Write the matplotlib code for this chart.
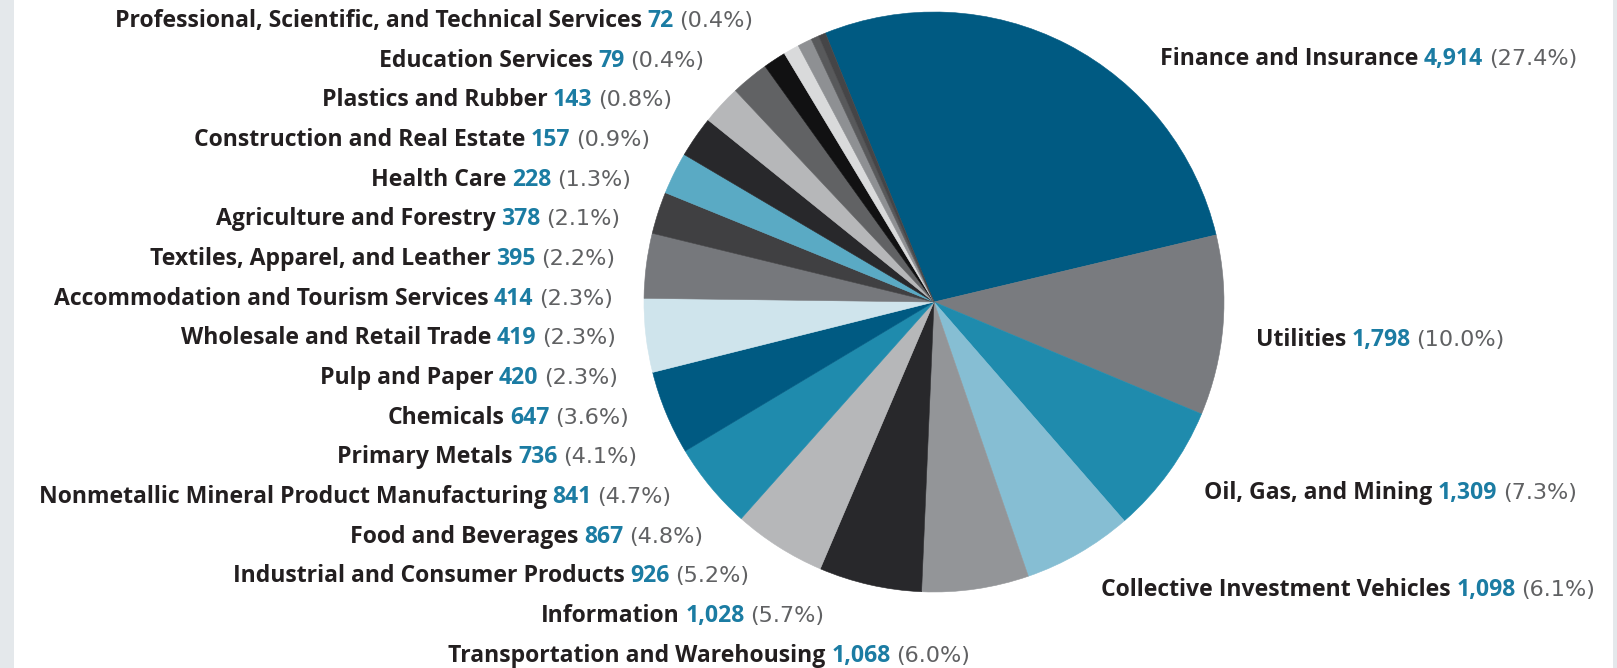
import matplotlib
matplotlib.use("Agg")
import matplotlib.pyplot as plt
from matplotlib.offsetbox import TextArea, HPacker, AnnotationBbox
from matplotlib.patches import Rectangle

# ---------------- data ----------------
categories = [
    "Finance and Insurance", "Utilities", "Oil, Gas, and Mining",
    "Collective Investment Vehicles", "Transportation and Warehousing",
    "Information", "Industrial and Consumer Products", "Food and Beverages",
    "Nonmetallic Mineral Product Manufacturing", "Primary Metals", "Chemicals",
    "Pulp and Paper", "Wholesale and Retail Trade",
    "Accommodation and Tourism Services", "Textiles, Apparel, and Leather",
    "Agriculture and Forestry", "Health Care", "Construction and Real Estate",
    "Plastics and Rubber", "Education Services",
    "Professional, Scientific, and Technical Services",
]
values = [4914, 1798, 1309, 1098, 1068, 1028, 926, 867, 841, 736, 647,
          420, 419, 414, 395, 378, 228, 157, 143, 79, 72]
slice_colors = [
    "#005a82", "#797b7f", "#1f8bad", "#86bed3", "#939598", "#28282b",
    "#b6b7b9", "#1f8bad", "#005a82", "#cfe4ec", "#76787c", "#404042",
    "#5aaac4", "#28282b", "#b6b7b9", "#616264", "#111112", "#d9dadb",
    "#8e9093", "#58595b", "#454547",
]

# ---------------- layout (pixels, from top-left) ----------------
W, H = 1617, 668
cx, cy, R = 934, 302, 290
# label anchors: (x, y, side) ; side 'R' = text starts at x, 'L' = text ends at x
label_pos = [
    (1160, 59, "R"), (1256, 340, "R"), (1204, 493, "R"), (1101, 590, "R"),
    (970, 656, "L"), (824, 616, "L"), (749, 576, "L"), (703, 537, "L"),
    (671, 497, "L"), (637, 457, "L"), (629, 418, "L"), (618, 378, "L"),
    (616, 338, "L"), (613, 299, "L"), (615, 259, "L"), (620, 219, "L"),
    (631, 180, "L"), (650, 140, "L"), (672, 100, "L"), (704, 61, "L"),
    (753, 21, "L"),
]

FONT = "Open Sans"
PCT_FONT = "DejaVu Sans"
FS = 16.6
name_color = "#231f20"
value_color = "#1b7ca3"
pct_color = "#606163"

fig = plt.figure(figsize=(W / 100, H / 100), dpi=100)
fig.patch.set_facecolor("white")
# side bands
fig.add_artist(Rectangle((0, 0), 14 / W, 1, transform=fig.transFigure,
                         facecolor="#e4e8eb", edgecolor="none", zorder=0))
fig.add_artist(Rectangle((1613 / W, 0), 4 / W, 1, transform=fig.transFigure,
                         facecolor="#e4e8eb", edgecolor="none", zorder=0))

ax = fig.add_axes([(cx - R) / W, (H - cy - R) / H, 2 * R / W, 2 * R / H])
wedges, _ = ax.pie(values, colors=slice_colors, startangle=112,
                   counterclock=False, radius=1.0)
for w in wedges:
    w.set_edgecolor(w.get_facecolor())
    w.set_linewidth(0.4)
ax.set_xlim(-1, 1)
ax.set_ylim(-1, 1)
ax.set_axis_off()

total = sum(values)
for name, v, (x, y, side) in zip(categories, values, label_pos):
    pct = f"({100 * v / total:.1f}%)"
    parts = [
        TextArea(name, textprops=dict(fontsize=FS, fontweight="bold",
                                      color=name_color, family=FONT)),
        TextArea(f"{v:,}", textprops=dict(fontsize=FS, fontweight="bold",
                                          color=value_color, family=FONT)),
        TextArea(pct, textprops=dict(fontsize=FS * 0.97, fontweight="normal",
                                     color=pct_color, family=PCT_FONT)),
    ]
    box = HPacker(children=parts, align="baseline", pad=0, sep=4)
    ab = AnnotationBbox(box, (x, H - y), xycoords="figure pixels",
                        box_alignment=(0 if side == "R" else 1, 0.5),
                        frameon=False, pad=0)
    fig.add_artist(ab)

fig.savefig("out.png", dpi=100, facecolor="white")
